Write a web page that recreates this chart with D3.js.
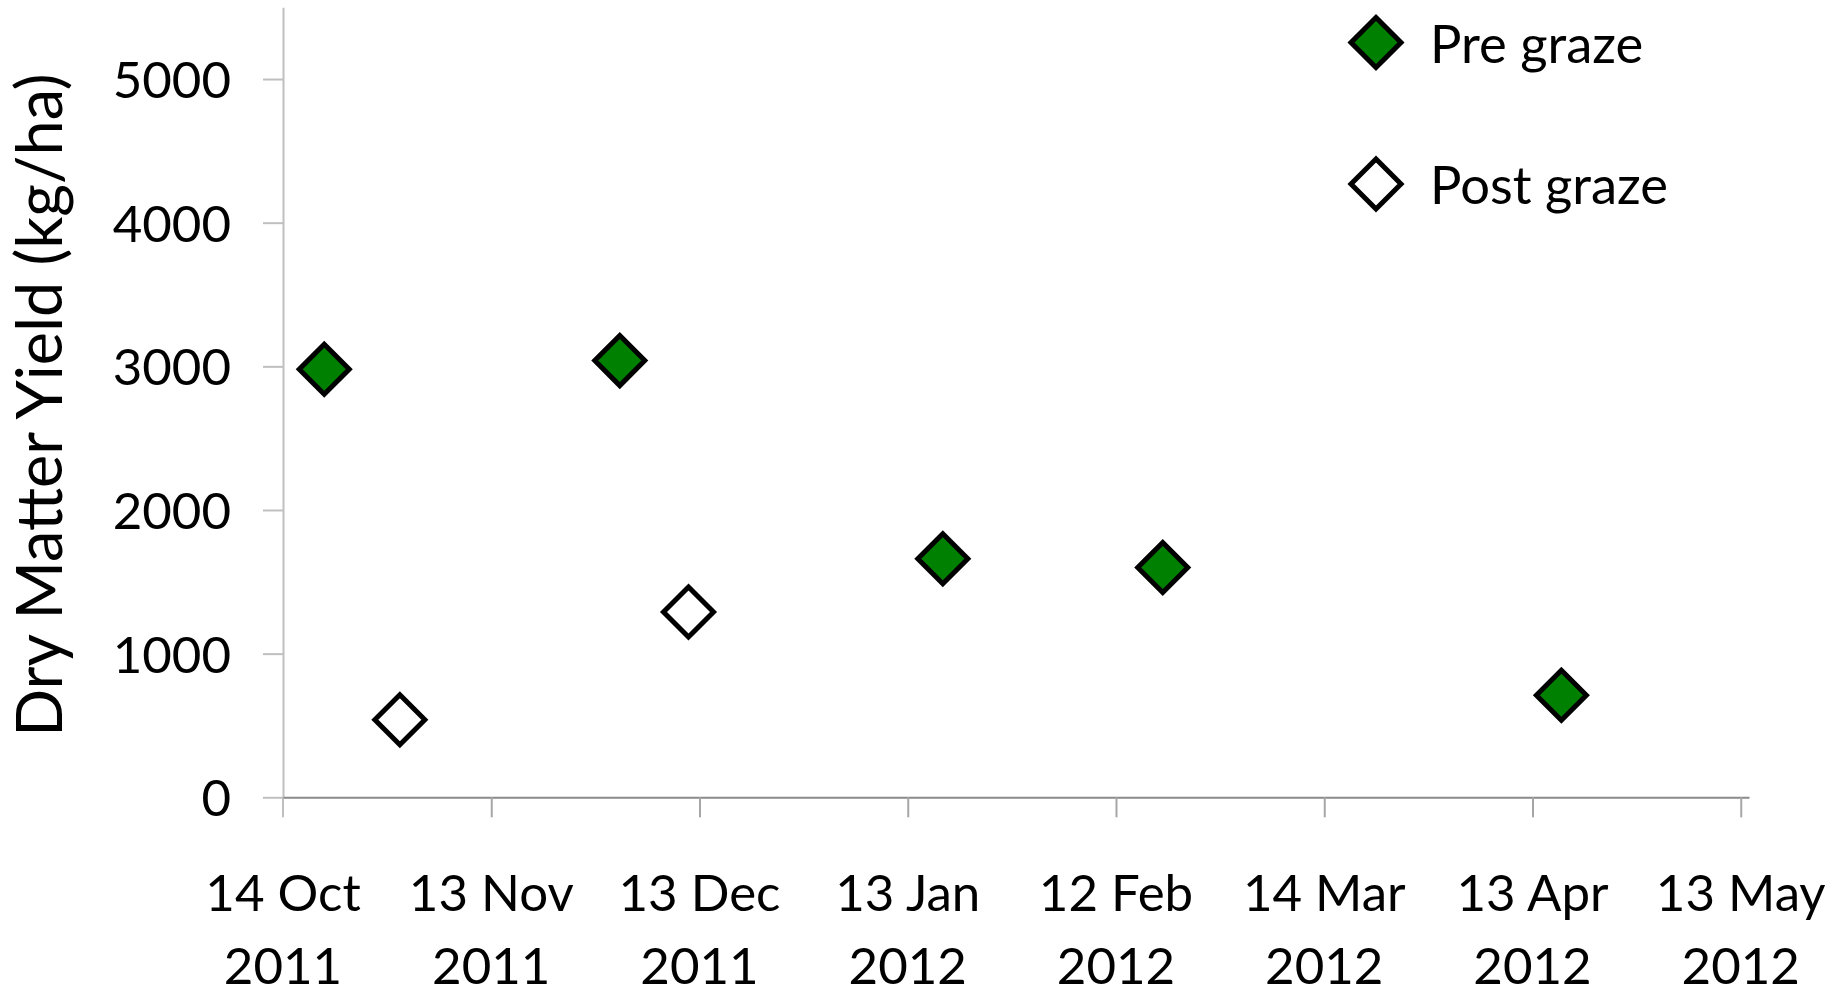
<!DOCTYPE html>
<html>
<head>
<meta charset="utf-8">
<script src="https://cdn.jsdelivr.net/npm/d3@7"></script>
<style>
  html, body { margin: 0; padding: 0; background: #ffffff; }
  svg { display: block; }
  text { font-family: Lato, "Open Sans", sans-serif; fill: #000; }
</style>
</head>
<body>
<svg id="chart" width="1842" height="995"></svg>
<script>
// Sampling dates and dry matter yields (kg/ha)
const preDates = ["2011-10-20", "2011-12-02", "2012-01-18", "2012-02-19", "2012-04-17"];
const preValues = [2980, 3040, 1660, 1600, 710];
const postDates = ["2011-10-31", "2011-12-12"];
const postValues = [540, 1290];

// Axis labelling
const xTickLabels = [
  ["14 Oct", "2011"], ["13 Nov", "2011"], ["13 Dec", "2011"], ["13 Jan", "2012"],
  ["12 Feb", "2012"], ["14 Mar", "2012"], ["13 Apr", "2012"], ["13 May", "2012"]
];
const yTickValues = [0, 1000, 2000, 3000, 4000, 5000];
const seriesNames = ["Pre graze", "Post graze"];
const yTitle = "Dry Matter Yield (kg/ha)";

const DAY = 864e5;
const parse = d3.utcParse("%Y-%m-%d");
const axisStart = parse("2011-10-14");
const tickStep = 30.3;          // days between major ticks
const axisSpan = 213.3;         // days shown on the axis

const svg = d3.select("#chart");

const x = d3.scaleUtc()
  .domain([axisStart, new Date(+axisStart + axisSpan * DAY)])
  .range([283, 1749]);
const y = d3.scaleLinear().domain([0, 5500]).range([797.3, 7.2]);

const tickDates = xTickLabels.map((_, i) => new Date(+axisStart + i * tickStep * DAY));

// Y axis: light grey line with outward ticks
const yAxis = svg.append("g").attr("transform", "translate(283,0)")
  .call(d3.axisLeft(y).tickValues(yTickValues).tickSize(20).tickSizeOuter(0).tickFormat(d3.format("d")).tickPadding(32));
yAxis.select(".domain").attr("stroke", "#bfbfbf").attr("stroke-width", 2);
yAxis.selectAll(".tick line").attr("stroke", "#bfbfbf").attr("stroke-width", 2);
yAxis.selectAll(".tick text")
  .attr("font-size", 51).attr("font-family", "Lato").attr("fill", "#000").attr("dy", "0.36em");
// extend the vertical axis line below zero, as the first x tick
svg.append("line").attr("x1", 283).attr("x2", 283).attr("y1", y(0)).attr("y2", y(0) + 20)
  .attr("stroke", "#bfbfbf").attr("stroke-width", 2);

// X axis: date ticks pointing down
const xAxis = svg.append("g").attr("transform", `translate(0,${y(0)})`)
  .call(d3.axisBottom(x).tickValues(tickDates.slice(1)).tickSize(20).tickSizeOuter(0).tickFormat(""));
xAxis.select(".domain").attr("stroke", "#8a8a8a").attr("stroke-width", 2);
xAxis.selectAll(".tick line").attr("stroke", "#a6a6a6").attr("stroke-width", 2);

// Two-line date labels
const xl = svg.append("g").selectAll("text").data(xTickLabels).join("text")
  .attr("text-anchor", "middle")
  .attr("font-size", 51)
  .attr("transform", (d, i) => `translate(${x(tickDates[i])},0)`);
xl.append("tspan").attr("x", 0).attr("y", 911).text(d => d[0]);
xl.append("tspan").attr("x", 0).attr("y", 984).text(d => d[1]);

// Y axis title
svg.append("text")
  .attr("transform", `translate(62,405) rotate(-90)`)
  .attr("text-anchor", "middle")
  .attr("font-size", 63)
  .text(yTitle);

// Diamond marker
const R = 25;
const diamond = `M0,${-R}L${R},0L0,${R}L${-R},0Z`;

const pre = preDates.map((d, i) => ({ date: parse(d), value: preValues[i] }));
const post = postDates.map((d, i) => ({ date: parse(d), value: postValues[i] }));

svg.append("g").selectAll("path").data(post).join("path")
  .attr("d", diamond)
  .attr("transform", d => `translate(${x(d.date)},${y(d.value)})`)
  .attr("fill", "#ffffff").attr("stroke", "#000").attr("stroke-width", 5).attr("stroke-linejoin", "miter");

svg.append("g").selectAll("path").data(pre).join("path")
  .attr("d", diamond)
  .attr("transform", d => `translate(${x(d.date)},${y(d.value)})`)
  .attr("fill", "#008000").attr("stroke", "#000").attr("stroke-width", 5).attr("stroke-linejoin", "miter");

// Legend
const legendFills = ["#008000", "#ffffff"];
const legend = svg.append("g").selectAll("g").data(seriesNames).join("g")
  .attr("transform", (d, i) => `translate(1376,${42.5 + i * 141.5})`);
legend.append("path").attr("d", diamond)
  .attr("fill", (d, i) => legendFills[i]).attr("stroke", "#000").attr("stroke-width", 5);
legend.append("text").attr("x", 54).attr("y", 20).attr("font-size", 52.5).text(d => d);
</script>
</body>
</html>
